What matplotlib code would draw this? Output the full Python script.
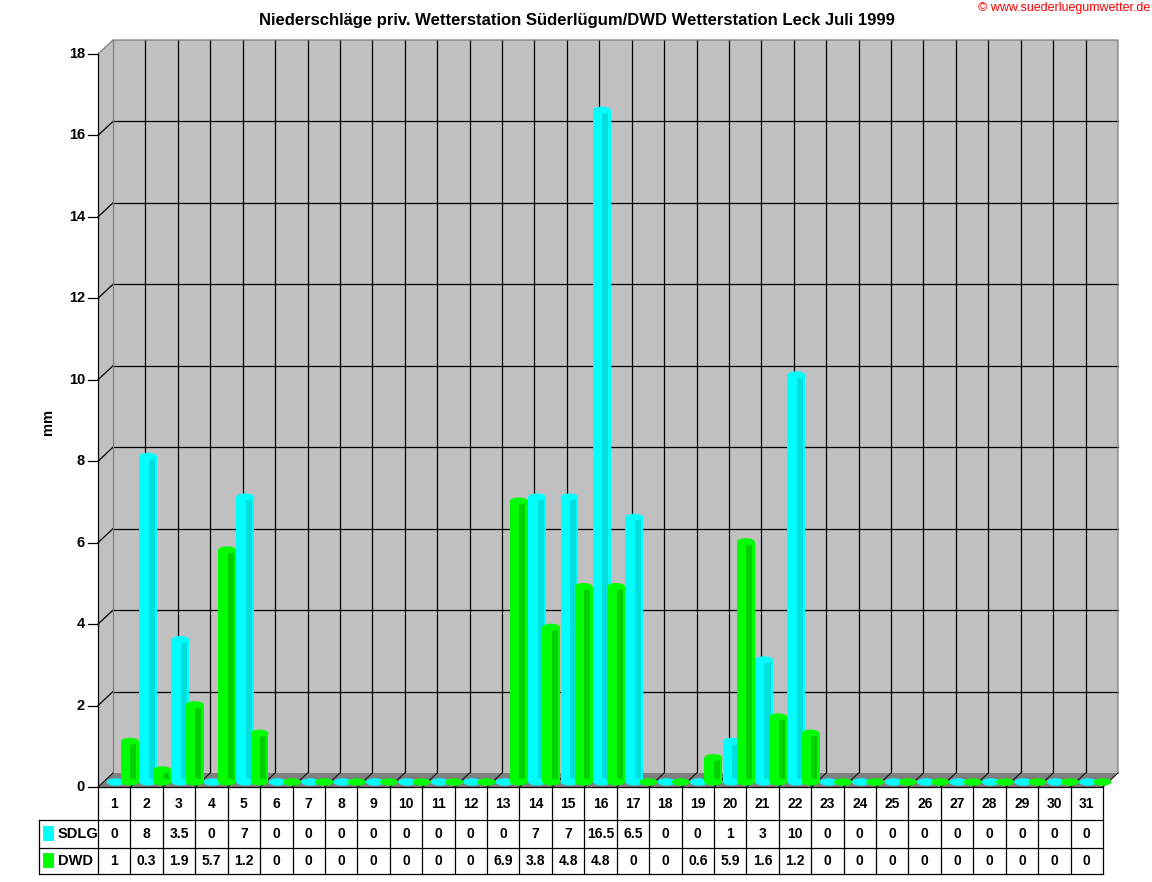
import matplotlib
matplotlib.use("Agg")
import matplotlib.pyplot as plt
from matplotlib.patches import Rectangle, Polygon, Ellipse
from matplotlib.transforms import blended_transform_factory

plt.rcParams['font.family'] = ['Liberation Sans', 'DejaVu Sans']

# data
days = list(range(1, 32))
sdlg = [0, 8, 3.5, 0, 7, 0, 0, 0, 0, 0, 0, 0, 0, 7, 7, 16.5, 6.5, 0, 0, 1, 3, 10,
        0, 0, 0, 0, 0, 0, 0, 0, 0]
dwd = [1, 0.3, 1.9, 5.7, 1.2, 0, 0, 0, 0, 0, 0, 0, 6.9, 3.8, 4.8, 4.8, 0, 0, 0.6, 5.9, 1.6, 1.2,
       0, 0, 0, 0, 0, 0, 0, 0, 0]
series = [("SDLG", sdlg), ("DWD", dwd)]
y_ticks = list(range(0, 19, 2))
title = "Niederschläge priv. Wetterstation Süderlügum/DWD Wetterstation Leck Juli 1999"

# layout in pixels
W, H = 1152, 882
L, R, B, T = 98, 1103, 787, 54
DX, DY = 15, 14

fig = plt.figure(figsize=(W / 100, H / 100), dpi=100)
ax = fig.add_axes([L / W, 1 - B / H, (R - L) / W, (B - T) / H])
ax.set_xlim(0.5, 31.5)
ax.set_ylim(0, 18)
ax.axis("off")

ux = (R - L) / 31.0   # px per day
uy = (B - T) / 18.0   # px per mm
ddx, ddy = DX / ux, DY / uy

def fy(px):
    return 1 - px / H

def fx(px):
    return px / W

grey = "#C0C0C0"
dark = "#808080"
lw = 0.9

# back wall
ax.add_patch(Rectangle((0.5 + ddx, ddy), 31, 18, fc=grey, ec="none", zorder=0, clip_on=False))
# left wall
ax.add_patch(Polygon([(0.5, 0), (0.5 + ddx, ddy), (0.5 + ddx, 18 + ddy), (0.5, 18)],
                     closed=True, fc=grey, ec="none", zorder=0, clip_on=False))
# grid lines
for y in y_ticks[1:-1]:
    ax.plot([0.5 + ddx, 31.5 + ddx], [y + ddy, y + ddy], color="black", lw=lw, zorder=1, clip_on=False)
    ax.plot([0.5, 0.5 + ddx], [y, y + ddy], color="black", lw=lw, zorder=1, clip_on=False)
for k in range(1, 31):
    ax.plot([k + 0.5 + ddx] * 2, [ddy, 18 + ddy], color="black", lw=lw, zorder=1, clip_on=False)
# wall edges
ax.plot([0.5, 0.5 + ddx, 31.5 + ddx, 31.5 + ddx], [18, 18 + ddy, 18 + ddy, ddy],
        color=dark, lw=lw, zorder=1, clip_on=False)
ax.plot([0.5 + ddx, 0.5 + ddx], [ddy, 18 + ddy], color=dark, lw=lw, zorder=1, clip_on=False)

# floor
ax.add_patch(Polygon([(0.5, 0), (31.5, 0), (31.5 + ddx, ddy), (0.5 + ddx, ddy)],
                     closed=True, fc=dark, ec="none", zorder=1.2, clip_on=False))
for k in range(0, 32):
    ax.plot([k + 0.5, k + 0.5 + ddx], [0, ddy], color="black", lw=0.7, zorder=1.3, clip_on=False)

# y axis
ax.plot([0.5, 0.5], [0, 18], color="black", lw=lw, zorder=3, clip_on=False)
for y in y_ticks:
    ax.plot([0.5 - 10 / ux, 0.5], [y, y], color="black", lw=lw, zorder=3, clip_on=False)
    ax.text(0.5 - 13 / ux, y, str(y), ha="right", va="center", fontsize=10.5,
            fontweight="bold", clip_on=False)

# cylinders
mdx, mdy = 7.5 / ux, 5 / uy
bw = 0.55
styles = {"SDLG": ("#00FFFF", "#00DEDE", -0.19),
          "DWD": ("#00FF00", "#00D000", 0.25)}
cap_h = 7 / uy
for z, (name, vals) in enumerate(series):
    col, shade, off = styles[name]
    xs = [d + off + mdx for d in days]
    ax.bar(xs, vals, width=bw, bottom=mdy, color=col, zorder=4 + z, clip_on=False)
    ax.bar([x + bw * 0.2 for x in xs], vals, width=bw * 0.34, bottom=mdy, color=shade,
           zorder=4 + z, clip_on=False)
    for x, v in zip(xs, vals):
        ax.add_patch(Ellipse((x, mdy), bw, cap_h, fc=col, ec="none", zorder=4 + z, clip_on=False))
        ax.add_patch(Ellipse((x, v + mdy), bw, cap_h, fc=col, ec="none", zorder=4.1 + z, clip_on=False))

# title and label
fig.text(fx(577), fy(20), title, ha="center", va="center", fontsize=12, fontweight="bold")
fig.text(fx(1150), fy(8), "© www.suederluegumwetter.de", ha="right", va="center",
         fontsize=9, color="#FF0000")
fig.text(fx(48), fy(422), "mm", rotation=90, ha="center", va="center", fontsize=10.5, fontweight="bold")

# data table
tr = blended_transform_factory(ax.transData, fig.transFigure)
rows = [787, 820, 848, 874]
fig.add_artist(plt.Line2D([fx(L), fx(R)], [fy(787), fy(787)], color="black", lw=lw))
for yl in rows[1:]:
    fig.add_artist(plt.Line2D([fx(39), fx(R)], [fy(yl), fy(yl)], color="black", lw=lw))
fig.add_artist(plt.Line2D([fx(39), fx(39)], [fy(820), fy(874)], color="black", lw=lw))
fig.add_artist(plt.Line2D([fx(L), fx(L)], [fy(787), fy(874)], color="black", lw=lw))
for k in range(1, 32):
    ax.plot([k + 0.5, k + 0.5], [fy(787), fy(874)], transform=tr, color="black", lw=lw, clip_on=False)
for d in days:
    ax.text(d, fy(804), str(d), transform=tr, ha="center", va="center", fontsize=10,
            fontweight="bold", clip_on=False)
for (name, vals), yc in zip(series, [834, 861]):
    for d, v in zip(days, vals):
        ax.text(d, fy(yc), f"{v:g}", transform=tr, ha="center", va="center", fontsize=10,
                fontweight="bold", clip_on=False)
    fig.add_artist(Rectangle((fx(43), fy(yc + 7)), 11 / W, 15 / H, transform=fig.transFigure,
                             fc=styles[name][0], ec="none"))
    fig.text(fx(58), fy(yc), name, ha="left", va="center", fontsize=10.5, fontweight="bold")

fig.savefig("out.png", dpi=100)
